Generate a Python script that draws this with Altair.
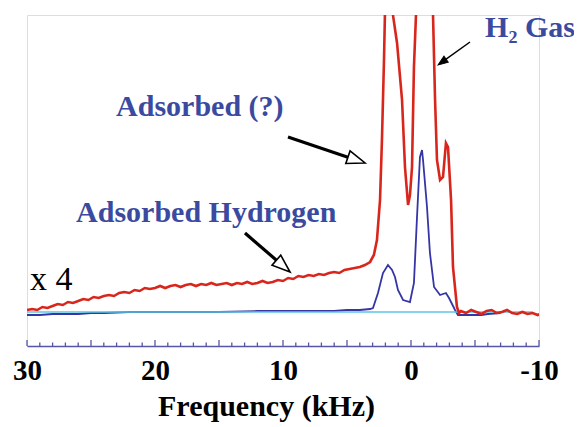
import math
import altair as alt
import pandas as pd

# ---------------- data ----------------
# red trace (x4), frequency in kHz, intensity in arbitrary units
red_f = [30.0, 29.6, 29.2, 28.8, 28.4, 28.0, 27.6, 27.2, 26.8, 26.4, 26.0, 25.6, 25.2, 24.8,
         24.4, 24.0, 23.6, 23.2, 22.8, 22.4, 22.0, 21.6, 21.2, 20.8, 20.4, 20.0, 19.6, 19.2,
         18.8, 18.4, 18.0, 17.6, 17.2, 16.8, 16.4, 16.0, 15.6, 15.2, 14.8, 14.4, 14.0, 13.6,
         13.2, 12.8, 12.4, 12.0, 11.6, 11.2, 10.8, 10.4, 10.0, 9.6, 9.2, 8.8, 8.4, 8.0, 7.6,
         7.2, 6.8, 6.4, 6.0, 5.6, 5.2, 4.8, 4.4, 4.0, 3.6, 3.2, 2.9, 2.66, 2.42, 2.27, 2.11,
         2.0, 1.72, 1.45, 1.41, 1.09, 0.70, 0.47, 0.23, 0.08, -0.08, -0.23, -0.39, -1.0,
         -1.72, -1.88, -2.03, -2.27, -2.50, -2.73, -2.89, -3.13, -3.28, -3.59, -3.75, -3.9,
         -4.3, -4.7, -5.1, -5.5, -5.9, -6.3, -6.7, -7.1, -7.5, -7.9, -8.3, -8.7, -9.1, -9.5,
         -9.9, -10.1]
red_i = [2, 3, 2, 5, 4, 6, 8, 7, 10, 9, 11, 13, 12, 15,
         14, 16, 17, 16, 19, 20, 19, 22, 21, 24, 23, 24, 26, 24,
         26, 27, 25, 27, 28, 26, 28, 27, 29, 27, 28, 29, 27, 29,
         28, 30, 28, 29, 31, 29, 30, 32, 31, 34, 33, 36, 35, 37, 36,
         38, 37, 39, 40, 39, 42, 43, 44, 45, 47, 50, 57, 72, 112, 172, 252,
         320, 700, 320, 297, 269, 212, 145, 107, 117, 145, 245, 297, 1500,
         297, 212, 152, 132, 135, 169, 165, 112, 45, 5, -1, 1,
         -1, 2, 0, -2, 1, 2, -1, 0, 2, -1, -2, 0, -2, -1,
         -3, -2]

# blue trace
blue_f = [30, 29, 28, 27, 26, 25, 24, 22, 20, 18, 15, 12, 10, 8, 6, 5, 4, 3.2, 2.97,
          2.58, 2.19, 1.80, 1.48, 1.25, 1.02, 0.62, 0.08, -0.23, -0.47, -0.70, -0.86,
          -0.94, -1.25, -1.48, -1.80, -2.27, -2.73, -2.97, -3.44, -3.67, -4.5, -5.5,
          -6.0, -7.0]
blue_i = [-3, -3, -2, -2, -2, -1, -1, 0, 0, 0, 0, 1, 1, 1, 1, 2, 2, 3, 4,
          19, 39, 47, 42, 35, 22, 12, 10, 29, 95, 155, 162,
          152, 105, 59, 25, 17, 19, 14, 2, -3, -3, -3,
          -2, -1]

# light-blue baseline
base_f = [30, -9.5]
base_i = [0, 0]

# axis ticks
tick_labels = [30, 20, 10, 0, -10]
minor_ticks = [t for t in range(-10, 31) if t % 5 != 0]
major_ticks = [t for t in range(-10, 31) if t % 5 == 0]

# annotations
ann_text = ["H₂ Gas", "Adsorbed (?)", "Adsorbed Hydrogen"]
ann_f = [-9.3, 16.5, 16.0]
ann_i = [275, 196, 90]

x4_text = ["x 4"]
x4_f = [28.1]
x4_i = [22]

# arrows: tail -> tip
arr_tail_f = [-4.61, 9.61, 12.97]
arr_tail_i = [270, 175, 79]
arr_tip_f = [-2.11, 3.59, 9.45]
arr_tip_i = [247, 149, 40]
arr_open = [False, True, True]

# ---------------- layout ----------------
W, H = 512, 331
FMIN, FMAX = -10, 30
IMIN, IMAX = -34, 297
PX_F = W / (FMAX - FMIN)
PX_I = H / (IMAX - IMIN)

RED = "#d8261c"
BLUE = "#3535a6"
LBLUE = "#5cc6e4"
TXT = "#3a4aa0"
AXC = "#5656a6"
SERIF = "Liberation Serif"

xs = alt.Scale(domain=[FMIN, FMAX], reverse=True, nice=False, zero=False)
ys = alt.Scale(domain=[IMIN, IMAX], nice=False, zero=False)

red = pd.DataFrame({"f": red_f, "i": red_i, "o": range(len(red_f))})
blue = pd.DataFrame({"f": blue_f, "i": blue_i, "o": range(len(blue_f))})
base = pd.DataFrame({"f": base_f, "i": base_i})

xaxis = alt.Axis(values=tick_labels, grid=False, tickSize=0, domainColor=AXC, domainWidth=1.5,
                 labelExpr="datum.value + ''",
                 labelFont=SERIF, labelFontWeight="bold", labelFontSize=29, labelColor="black",
                 labelPadding=10, labelOverlap=False, labelFlush=False,
                 title="Frequency (kHz)", titleFont=SERIF, titleFontWeight="bold",
                 titleFontSize=30, titleColor="black", titlePadding=6, titleX=239,
                 titleAlign="center")

blue_l = alt.Chart(blue).mark_line(color=BLUE, strokeWidth=1.8, clip=True).encode(
    x=alt.X("f:Q", scale=xs, axis=xaxis),
    y=alt.Y("i:Q", scale=ys, axis=None),
    order="o:Q")
base_l = alt.Chart(base).mark_line(color=LBLUE, strokeWidth=1.6, clip=True).encode(
    x=alt.X("f:Q", scale=xs), y=alt.Y("i:Q", scale=ys))
red_l = alt.Chart(red).mark_line(color=RED, strokeWidth=2.6, clip=True).encode(
    x=alt.X("f:Q", scale=xs), y=alt.Y("i:Q", scale=ys), order="o:Q")

minor = alt.Chart(pd.DataFrame({"t": minor_ticks})).mark_rule(color=AXC, strokeWidth=1.3).encode(
    x=alt.X("t:Q", scale=xs), y=alt.value(H), y2=alt.value(H - 3.5))
major = alt.Chart(pd.DataFrame({"t": major_ticks})).mark_rule(color=AXC, strokeWidth=1.3).encode(
    x=alt.X("t:Q", scale=xs), y=alt.value(H), y2=alt.value(H - 6))

ann = alt.Chart(pd.DataFrame({"t": ann_text, "f": ann_f, "i": ann_i})).mark_text(
    font=SERIF, fontWeight="bold", fontSize=30, color=TXT, align="center",
    baseline="alphabetic").encode(
    x=alt.X("f:Q", scale=xs), y=alt.Y("i:Q", scale=ys), text="t:N")
x4 = alt.Chart(pd.DataFrame({"t": x4_text, "f": x4_f, "i": x4_i})).mark_text(
    font=SERIF, fontSize=34, color="black", align="center", baseline="alphabetic").encode(
    x=alt.X("f:Q", scale=xs), y=alt.Y("i:Q", scale=ys), text="t:N")

# arrows
rows = []
for tf, ti, pf, pi, op in zip(arr_tail_f, arr_tail_i, arr_tip_f, arr_tip_i, arr_open):
    dx = -(pf - tf) * PX_F
    dy = -(pi - ti) * PX_I
    ln = math.hypot(dx, dy)
    ang = math.degrees(math.atan2(dx, -dy)) % 360
    size = 361 if op else 110
    r = math.sqrt(size) / 2
    cf = pf + (r * dx / ln) / PX_F
    ci = pi + (r * dy / ln) / PX_I
    rows.append({"tf": tf, "ti": ti, "cf": cf, "ci": ci, "ang": ang, "size": size,
                 "open": op, "w": 3.2 if op else 1.5})
arr = pd.DataFrame(rows)
shaft = alt.Chart(arr).mark_rule(color="black").encode(
    x=alt.X("tf:Q", scale=xs), y=alt.Y("ti:Q", scale=ys), x2="cf:Q", y2="ci:Q",
    strokeWidth=alt.StrokeWidth("w:Q", scale=None))
HEAD = "M0,-1L0.7,0.9L-0.7,0.9Z"
open_head = alt.Chart(arr[arr["open"]]).mark_point(
    shape=HEAD, filled=True, fill="white", stroke="black", strokeWidth=1.6, opacity=1).encode(
    x=alt.X("cf:Q", scale=xs), y=alt.Y("ci:Q", scale=ys),
    angle=alt.Angle("ang:Q", scale=None), size=alt.Size("size:Q", scale=None))
solid_head = alt.Chart(arr[~arr["open"]]).mark_point(
    shape=HEAD, filled=True, fill="black", stroke="black", strokeWidth=1, opacity=1).encode(
    x=alt.X("cf:Q", scale=xs), y=alt.Y("ci:Q", scale=ys),
    angle=alt.Angle("ang:Q", scale=None), size=alt.Size("size:Q", scale=None))

chart = alt.layer(blue_l, base_l, red_l, minor, major, ann, x4, shaft, open_head, solid_head).properties(
    width=W, height=H,
    autosize=alt.AutoSizeParams(type="none"),
    padding={"left": 19, "top": 7, "right": 35, "bottom": 80},
).configure_view(stroke=None).configure(background="white")

chart.save("out.html", embed_options={"renderer": "svg", "actions": False})
